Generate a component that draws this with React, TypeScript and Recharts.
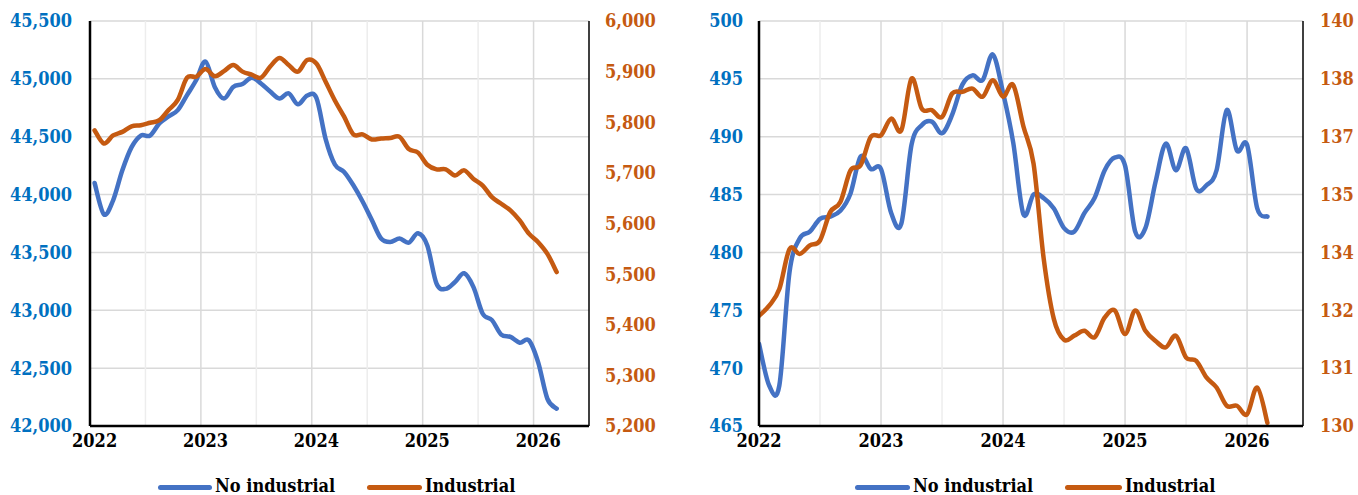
import React from 'react';
import { LineChart, Line, XAxis, YAxis, CartesianGrid, ReferenceLine } from 'recharts';

// ---- categories / tick labels ----
const yearLabels = ['2022', '2023', '2024', '2025', '2026'];
const yearTicks = [0, 12, 24, 36, 48]; // month index of January of each year

// ---- left panel series (monthly, Jan 2022 .. Mar 2026) ----
const leftNoIndustrial = [
  44100, 43830, 43950, 44210, 44410, 44510, 44510, 44615, 44675, 44730, 44860, 44990,
  45150, 44930, 44830, 44930, 44955, 45010, 44960, 44890, 44830, 44875, 44780, 44855,
  44835, 44480, 44260, 44195, 44080, 43940, 43780, 43620, 43590, 43620, 43585, 43665,
  43560, 43230, 43185, 43245, 43320, 43200, 42970, 42915, 42790, 42770, 42720, 42740,
  42550, 42235, 42150,
];
const leftIndustrial = [
  5784, 5758, 5774, 5781, 5792, 5794, 5799, 5804, 5824, 5844, 5888, 5890,
  5905, 5891, 5901, 5913, 5900, 5894, 5888, 5910, 5927, 5913, 5900, 5923,
  5916, 5880, 5843, 5811, 5776, 5776, 5766, 5768, 5769, 5771, 5747, 5740,
  5716, 5707, 5707, 5695, 5705, 5688, 5675, 5652, 5639, 5626, 5606, 5580,
  5563, 5540, 5504,
];

// ---- right panel series ----
const rightNoIndustrial = [
  472.1, 468.5, 468.5, 478.3, 481.2, 481.8, 482.9, 483.1, 483.6, 485.1, 488.3, 487.2,
  487.2, 483.4, 482.5, 489.3, 491.0, 491.3, 490.3, 491.9, 494.5, 495.3, 494.9, 497.1,
  493.8, 489.5, 483.3, 485.0, 484.7, 483.8, 482.1, 481.8, 483.4, 484.7, 487.1, 488.2,
  487.5, 481.8, 482.1, 486.1, 489.4, 487.1, 489.0, 485.5, 485.8, 487.1, 492.3, 488.8,
  489.3, 483.8, 483.1,
];
const rightIndustrial = [
  132.72, 132.97, 133.38, 134.37, 134.25, 134.46, 134.58, 135.28, 135.53, 136.31, 136.44, 137.14,
  137.18, 137.59, 137.30, 138.58, 137.84, 137.80, 137.63, 138.21, 138.25, 138.33, 138.13, 138.54,
  138.13, 138.42, 137.40, 136.48, 134.13, 132.64, 132.13, 132.23, 132.35, 132.19, 132.68, 132.85,
  132.27, 132.85, 132.35, 132.10, 131.94, 132.23, 131.69, 131.61, 131.20, 130.95, 130.50, 130.50,
  130.29, 130.95, 130.08,
];

// ---- axis ticks ----
const leftMainTicks = [42000, 42500, 43000, 43500, 44000, 44500, 45000, 45500];
const leftSecTicks = [5200, 5300, 5400, 5500, 5600, 5700, 5800, 5900, 6000];
const rightMainTicks = [465, 470, 475, 480, 485, 490, 495, 500];
const rightSecTicks = [130, 131.43, 132.86, 134.29, 135.71, 137.14, 138.57, 140];
const rightSecLabels = ['130', '131', '132', '134', '135', '137', '138', '140'];

// ---- vertical grid positions (month index) ----
const leftYearLines = [11.5, 23.5, 35.5, 47.5];
const leftHalfLines = [5.5, 17.5, 29.5, 41.5];
const rightYearLines = [12, 24, 36, 48];
const rightHalfLines = [6, 18, 30, 42];

const BLUE = '#4472C4';
const ORANGE = '#C55A11';
const TICK_BLUE = '#0070C0';
const FONT = "'DejaVu Serif Condensed', 'DejaVu Serif', serif";

const tickFont = { fontFamily: FONT, fontSize: 18, fontWeight: 700 };

// Excel-like smoothed line (Catmull-Rom through the points)
const excelSmooth: any = (context: any) => {
  let pts: number[][] = [];
  return {
    areaStart() {},
    areaEnd() {},
    lineStart() {
      pts = [];
    },
    point(x: number, y: number) {
      pts.push([+x, +y]);
    },
    lineEnd() {
      const n = pts.length;
      if (!n) return;
      context.moveTo(pts[0][0], pts[0][1]);
      const t = 1 / 6;
      for (let i = 0; i < n - 1; i++) {
        const p0 = pts[i - 1] || pts[i];
        const p1 = pts[i];
        const p2 = pts[i + 1];
        const p3 = pts[i + 2] || p2;
        context.bezierCurveTo(
          p1[0] + (p2[0] - p0[0]) * t,
          p1[1] + (p2[1] - p0[1]) * t,
          p2[0] - (p3[0] - p1[0]) * t,
          p2[1] - (p3[1] - p1[1]) * t,
          p2[0],
          p2[1]
        );
      }
    },
  };
};

const fmtThousands = (v: number) => v.toLocaleString('en-US');

type PanelProps = {
  a: number[];
  b: number[];
  width: number;
  margin: { top: number; right: number; bottom: number; left: number };
  leftW: number;
  rightW: number;
  leftGap: number;
  rightGap: number;
  xDomain: [number, number];
  yearLines: number[];
  halfLines: number[];
  mainTicks: number[];
  mainDomain: [number, number];
  mainFmt: (v: number) => string;
  secTicks: number[];
  secDomain: [number, number];
  secFmt: (v: number) => string;
};

function Panel(p: PanelProps) {
  const data = p.a.map((v, i) => ({ m: i, a: v, b: p.b[i] }));
  return (
    <LineChart width={p.width} height={495} data={data} margin={p.margin}>
      <CartesianGrid xAxisId="b" yAxisId="left" vertical={false} stroke="#d9d9d9" strokeWidth={1.5} />
      {p.halfLines.map((x) => (
        <ReferenceLine key={'h' + x} x={x} xAxisId="b" yAxisId="left" stroke="#ededed" strokeWidth={1.5} />
      ))}
      {p.yearLines.map((x) => (
        <ReferenceLine key={'y' + x} x={x} xAxisId="b" yAxisId="left" stroke="#d9d9d9" strokeWidth={1.5} />
      ))}
      <XAxis
        xAxisId="b"
        type="number"
        dataKey="m"
        domain={p.xDomain}
        allowDataOverflow
        ticks={yearTicks}
        interval={0}
        tickFormatter={(v: number) => yearLabels[yearTicks.indexOf(v)]}
        axisLine={{ stroke: '#000', strokeWidth: 2.5 }}
        tickLine={false}
        tickSize={0}
        tickMargin={8}
        height={69}
        tick={{ ...tickFont, fill: '#000' }}
      />
      <XAxis
        xAxisId="t"
        orientation="top"
        type="number"
        dataKey="m"
        domain={p.xDomain}
        allowDataOverflow
        height={0}
        tick={false}
        tickLine={false}
        axisLine={{ stroke: '#000', strokeWidth: 1.5 }}
      />
      <YAxis
        yAxisId="left"
        orientation="left"
        width={p.leftW}
        domain={p.mainDomain}
        ticks={p.mainTicks}
        interval={0}
        allowDataOverflow
        tickFormatter={p.mainFmt}
        axisLine={{ stroke: '#000', strokeWidth: 2.5 }}
        tickLine={false}
        tickSize={0}
        tickMargin={p.leftGap}
        tick={{ ...tickFont, fill: TICK_BLUE }}
      />
      <YAxis
        yAxisId="right"
        orientation="right"
        width={p.rightW}
        domain={p.secDomain}
        ticks={p.secTicks}
        interval={0}
        allowDataOverflow
        tickFormatter={p.secFmt}
        axisLine={{ stroke: '#000', strokeWidth: 1.5 }}
        tickLine={false}
        tickSize={0}
        tickMargin={p.rightGap}
        tick={{ ...tickFont, fill: ORANGE }}
      />
      <Line
        xAxisId="b"
        yAxisId="left"
        dataKey="a"
        name="No industrial"
        stroke={BLUE}
        strokeWidth={4.5}
        strokeLinecap="round"
        strokeLinejoin="round"
        dot={false}
        activeDot={false}
        type={excelSmooth}
        isAnimationActive={false}
      />
      <Line
        xAxisId="b"
        yAxisId="right"
        dataKey="b"
        name="Industrial"
        stroke={ORANGE}
        strokeWidth={4.5}
        strokeLinecap="round"
        strokeLinejoin="round"
        dot={false}
        activeDot={false}
        type={excelSmooth}
        isAnimationActive={false}
      />
    </LineChart>
  );
}

function LegendItem({ x, textX, color, label }: { x: number; textX: number; color: string; label: string }) {
  return (
    <>
      <div
        style={{
          position: 'absolute',
          left: x,
          top: 484.5,
          width: textX - x - 3,
          height: 5,
          borderRadius: 2.5,
          background: color,
        }}
      />
      <div
        style={{
          position: 'absolute',
          left: textX,
          top: 474.5,
          lineHeight: '22px',
          fontFamily: FONT,
          fontSize: 18,
          fontWeight: 700,
          color: '#000',
          whiteSpace: 'nowrap',
        }}
      >
        {label}
      </div>
    </>
  );
}

export default function App() {
  return (
    <div style={{ position: 'absolute', left: 0, top: 0, width: 1358, height: 495, background: '#fff', overflow: 'hidden' }}>
      <div style={{ position: 'absolute', left: 0, top: 0 }}>
        <Panel
          a={leftNoIndustrial}
          b={leftIndustrial}
          width={680}
          margin={{ top: 21, right: 10, bottom: 0, left: 10 }}
          leftW={80}
          rightW={81}
          leftGap={18}
          rightGap={16}
          xDomain={[-0.5, 53.5]}
          yearLines={leftYearLines}
          halfLines={leftHalfLines}
          mainTicks={leftMainTicks}
          mainDomain={[42000, 45500]}
          mainFmt={fmtThousands}
          secTicks={leftSecTicks}
          secDomain={[5200, 6000]}
          secFmt={fmtThousands}
        />
      </div>
      <div style={{ position: 'absolute', left: 680, top: 0 }}>
        <Panel
          a={rightNoIndustrial}
          b={rightIndustrial}
          width={678}
          margin={{ top: 21, right: 5, bottom: 0, left: 9 }}
          leftW={70}
          rightW={50}
          leftGap={16}
          rightGap={17}
          xDomain={[0, 53.5]}
          yearLines={rightYearLines}
          halfLines={rightHalfLines}
          mainTicks={rightMainTicks}
          mainDomain={[465, 500]}
          mainFmt={(v: number) => String(v)}
          secTicks={rightSecTicks}
          secDomain={[130, 140]}
          secFmt={(v: number) => rightSecLabels[rightSecTicks.indexOf(v)]}
        />
      </div>
      <LegendItem x={158} textX={215} color={BLUE} label="No industrial" />
      <LegendItem x={367} textX={425} color={ORANGE} label="Industrial" />
      <LegendItem x={855} textX={913} color={BLUE} label="No industrial" />
      <LegendItem x={1065} textX={1125} color={ORANGE} label="Industrial" />
    </div>
  );
}
